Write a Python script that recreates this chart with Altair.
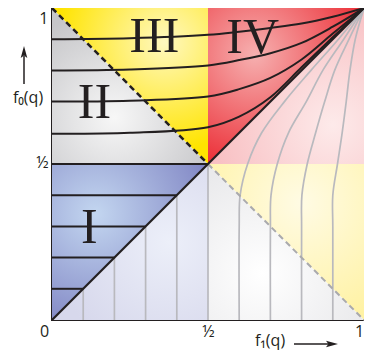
import altair as alt
import pandas as pd

# ---------------- values ----------------
low_levels = [0.1, 0.2, 0.3, 0.4]          # horizontal black lines in region I / grey verticals
high_levels = [0.6, 0.7, 0.8, 0.9]         # black curves (from left edge) / grey curves (from bottom)
half = 0.5

# black curves f0 (y) along x
curve_x = [0.0, 0.25, 0.5, 0.6, 0.7, 0.8, 0.9, 1.0]
black_06 = [0.597, 0.600, 0.618, 0.652, 0.714, 0.810, 0.906, 1.0]
black_07 = [0.700, 0.703, 0.716, 0.740, 0.776, 0.835, 0.918, 1.0]
black_08 = [0.800, 0.803, 0.816, 0.833, 0.855, 0.888, 0.940, 1.0]
black_09 = [0.900, 0.903, 0.914, 0.924, 0.936, 0.950, 0.972, 1.0]

# grey curves f1 (x) along y
curve_y = [0.0, 0.3, 0.4, 0.5, 0.6, 0.7, 0.8, 0.9, 1.0]
grey_06 = [0.600, 0.600, 0.603, 0.627, 0.672, 0.745, 0.830, 0.918, 1.0]
grey_07 = [0.700, 0.700, 0.702, 0.722, 0.758, 0.815, 0.868, 0.935, 1.0]
grey_08 = [0.800, 0.800, 0.801, 0.818, 0.845, 0.874, 0.906, 0.952, 1.0]
grey_09 = [0.900, 0.900, 0.900, 0.915, 0.930, 0.943, 0.955, 0.972, 1.0]

region_text = ["I", "II", "III", "IV"]
region_tx = [0.12, 0.136, 0.328, 0.643]
region_ty = [0.247, 0.646, 0.858, 0.855]

x_ticks = [0, 0.5, 1]
y_ticks = [0.5, 1]

INK = "#231f20"
GREY = "#b9b9be"
FONT = "Open Sans"

# ---------------- tables ----------------
lines = []
def add(kind, lid, xs, ys):
    for i, (a, b) in enumerate(zip(xs, ys)):
        lines.append(dict(kind=kind, id=lid, i=i, x=a, y=b))

for L in low_levels:
    add("black", f"h{L}", [0, L], [L, L])
    add("grey", f"v{L}", [L, L], [0, L])
add("black", "h0.5", [0, half], [half, half])
add("grey", "v0.5", [half, half], [0, half])
for L, ys in zip(high_levels, [black_06, black_07, black_08, black_09]):
    add("black", f"c{L}", curve_x, ys)
for L, xs in zip(high_levels, [grey_06, grey_07, grey_08, grey_09]):
    add("grey", f"g{L}", xs, curve_y)
add("diag", "diag", [0, 1], [0, 1])
add("bdash", "bdash", [0, half], [1, half])
add("gdash", "gdash", [half, 1], [half, 0])
ldf = pd.DataFrame(lines)

areas = [
    ("lav", [0, 0.5], [0, 0], [0, 0.5]),
    ("I", [0, 0.5], [0, 0.5], [0.5, 0.5]),
    ("II", [0, 0.5], [0.5, 0.5], [1, 0.5]),
    ("III", [0, 0.5], [1, 0.5], [1, 1]),
    ("IV", [0.5, 1], [0.5, 1], [1, 1]),
    ("pink", [0.5, 1], [0.5, 0.5], [0.5, 1]),
    ("ylw", [0.5, 1], [0.5, 0], [0.5, 0.5]),
    ("gry", [0.5, 1], [0, 0], [0.5, 0]),
]
arows = []
for name, xs, ys, y2s in areas:
    for a, b, c in zip(xs, ys, y2s):
        arows.append(dict(region=name, x=a, y=b, y2=c))
adf = pd.DataFrame(arows)

tdf = pd.DataFrame(dict(text=region_text, x=region_tx, y=region_ty))
dummy = pd.DataFrame({"a": [0]})

# ---------------- scales / axes ----------------
xscale = alt.Scale(domain=[0, 1], nice=False, zero=False)
yscale = alt.Scale(domain=[0, 1], nice=False, zero=False)
xaxis = alt.Axis(values=x_ticks, labelExpr="datum.value == 0 ? '0' : datum.value == 1 ? '1' : '½'",
                 title=None, ticks=False, domain=False, grid=False, labelFlush=False,
                 labelPadding=3, labelFontSize=16, labelFont=FONT, labelColor=INK,
                 labelOffset={"condition": [{"test": "datum.value == 0", "value": -8},
                                            {"test": "datum.value == 1", "value": -5}], "value": 0})
yaxis = alt.Axis(values=y_ticks, labelExpr="datum.value == 1 ? '1' : '½'",
                 title=None, ticks=False, domain=False, grid=False, labelFlush=False,
                 labelPadding=4, labelFontSize=16, labelFont=FONT, labelColor=INK,
                 labelOffset={"condition": {"test": "datum.value == 1", "value": 10}, "value": -2})
X = alt.X("x:Q", scale=xscale, axis=xaxis)
Y = alt.Y("y:Q", scale=yscale, axis=yaxis)


def rg(inner, outer, cx, cy, r=0.75):
    return alt.RadialGradient(
        gradient="radial",
        stops=[alt.GradientStop(color=inner, offset=0), alt.GradientStop(color=outer, offset=1)],
        x1=cx, y1=cy, x2=cx, y2=cy, r1=0, r2=r)

fills = {
    "lav": rg("#eceff9", "#d7d8ec", 0.75, 0.5),
    "I": rg("#c3d6f0", "#7f84c3", 0.28, 0.32, 0.8),
    "II": rg("#f7f7f7", "#c6c6c9", 0.4, 0.7, 0.7),
    "III": rg("#fff8c0", "#ffe400", 0.72, 0.22, 0.7),
    "IV": rg("#f6b0b0", "#ec2f37", 0.3, 0.3, 0.75),
    "pink": rg("#fdeaea", "#f8bfc2", 0.8, 0.75, 0.8),
    "ylw": rg("#fffbe4", "#fff2a4", 0.6, 0.25, 0.8),
    "gry": rg("#ffffff", "#eaeaec", 0.35, 0.7, 0.7),
}

layers = []
for name, *_ in areas:
    layers.append(
        alt.Chart(adf).transform_filter(alt.datum.region == name)
        .mark_area(fill=fills[name], opacity=1, interpolate="linear")
        .encode(x=X, y=Y, y2="y2:Q")
    )


def line_layer(kind, **kw):
    return (alt.Chart(ldf).transform_filter(alt.datum.kind == kind)
            .mark_line(**kw)
            .encode(x=X, y=Y, order="i:Q", detail="id:N"))

layers.append(line_layer("grey", color=GREY, strokeWidth=1.7, interpolate="catmull-rom"))
layers.append(line_layer("gdash", color="#a9a9ad", strokeWidth=2, strokeDash=[6, 4]))
layers.append(line_layer("black", color=INK, strokeWidth=2, interpolate="catmull-rom"))
layers.append(line_layer("bdash", color=INK, strokeWidth=2.5, strokeDash=[6, 4]))
layers.append(line_layer("diag", color=INK, strokeWidth=2.2))

layers.append(
    alt.Chart(tdf).mark_text(font="Liberation Serif", fontSize=50, color=INK,
                             baseline="alphabetic", align="center")
    .encode(x=X, y=Y, text="text:N")
)

# axis titles with arrows (pixel positions relative to plot area)
layers.append(alt.Chart(dummy).mark_text(text="f₀(q)", font=FONT, fontSize=16, color=INK,
                                         align="center", baseline="middle")
              .encode(x=alt.value(-24), y=alt.value(90)))
layers.append(alt.Chart(dummy).mark_text(text="f₁(q)", font=FONT, fontSize=16, color=INK,
                                         align="center", baseline="middle")
              .encode(x=alt.value(218), y=alt.value(333)))
layers.append(alt.Chart(dummy).mark_rule(color=INK, strokeWidth=1.5)
              .encode(x=alt.value(-28), y=alt.value(76), y2=alt.value(48)))
layers.append(alt.Chart(dummy).mark_point(shape="M0,-1L0.55,1L0,0.6L-0.55,1Z", size=144, filled=True,
                                          color=INK, strokeWidth=0, opacity=1)
              .encode(x=alt.value(-28), y=alt.value(44)))
layers.append(alt.Chart(dummy).mark_rule(color=INK, strokeWidth=1.5)
              .encode(x=alt.value(242), x2=alt.value(280), y=alt.value(336)))
layers.append(alt.Chart(dummy).mark_point(shape="M1,0L-1,0.55L-0.6,0L-1,-0.55Z", size=144, filled=True,
                                          color=INK, strokeWidth=0, opacity=1)
              .encode(x=alt.value(280), y=alt.value(336)))

chart = (
    alt.layer(*layers)
    .properties(width=312, height=312,
                autosize=alt.AutoSizeParams(type="none"),
                padding={"left": 44, "top": 0, "right": 0, "bottom": 34})
    .configure_view(stroke=INK, strokeWidth=2)
)

chart.save("out.html", embed_options={"renderer": "svg", "actions": False})
